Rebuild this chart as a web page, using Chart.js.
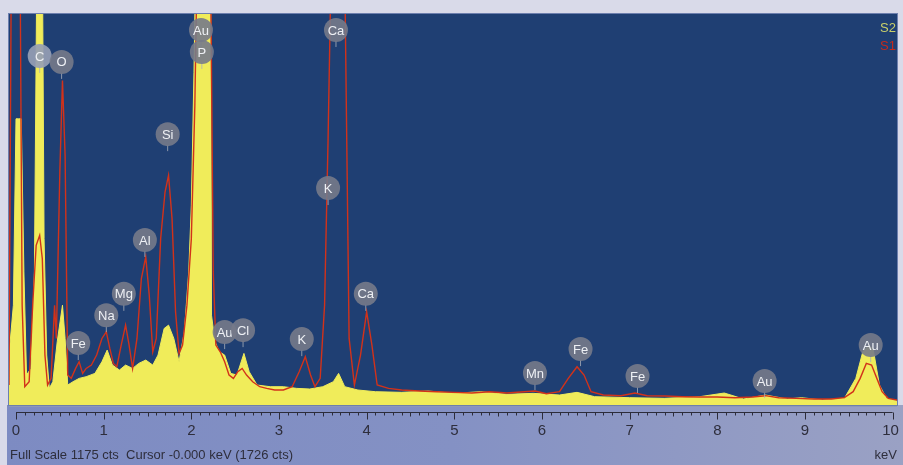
<!DOCTYPE html>
<html>
<head>
<meta charset="utf-8">
<script src="https://cdn.jsdelivr.net/npm/chart.js@4/dist/chart.umd.min.js"></script>
<style>
    html, body { margin: 0; padding: 0; background: #d9dae9; overflow: hidden; }
    #spectrum_chart { display: block; }
</style>
</head>
<body>
<canvas id="spectrum_chart" width="903" height="465"></canvas>
<script>
// S1 (red line) - energy in keV, counts
var energyS1 = [-0.08, -0.05, 0.0, 0.04, 0.07, 0.10, 0.15, 0.19, 0.23, 0.27, 0.30, 0.33, 0.36, 0.40, 0.44, 0.46, 0.50, 0.53, 0.56, 0.59, 0.63,
    0.68, 0.72, 0.76, 0.80, 0.86, 0.92, 0.98, 1.03, 1.07, 1.11, 1.15, 1.20, 1.25, 1.29, 1.33, 1.38, 1.43, 1.48, 1.52, 1.56,
    1.60, 1.65, 1.70, 1.74, 1.78, 1.82, 1.86, 1.90, 1.95, 2.00, 2.04, 2.07, 2.12, 2.18, 2.22, 2.25, 2.28, 2.33, 2.38, 2.43, 2.48,
    2.53, 2.58, 2.63, 2.70, 2.78, 2.86, 2.95, 3.05, 3.15, 3.23, 3.30, 3.36, 3.41, 3.47, 3.52, 3.56, 3.60, 3.70, 3.75, 3.80,
    3.86, 3.93, 4.00, 4.06, 4.12, 4.25, 4.40, 4.60, 4.80, 5.00, 5.20, 5.40, 5.60, 5.80, 5.92, 6.05, 6.20, 6.30, 6.40, 6.48,
    6.56, 6.70, 6.90, 7.06, 7.20, 7.40, 7.60, 7.80, 8.00, 8.20, 8.40, 8.55, 8.70, 8.90, 9.10, 9.30, 9.45, 9.55, 9.63, 9.70,
    9.76, 9.82, 9.88, 9.95, 10.05];
var countsS1 = [60, 1500, 1726, 1600, 300, 55, 70, 300, 480, 510, 440, 150, 60, 80, 300, 200, 700, 975, 750, 90, 80,
    110, 130, 95, 110, 120, 150, 200, 220, 170, 125, 115, 180, 240, 180, 110, 200, 380, 445, 330, 160,
    200, 500, 640, 690, 560, 280, 155, 180, 300, 500, 900, 1400, 1500, 1450, 1300, 400, 180, 160, 130, 90, 80,
    100, 110, 90, 70, 55, 50, 45, 45, 55, 100, 145, 90, 55, 80, 300, 800, 1400, 1500, 1300, 200,
    60, 150, 280, 180, 60, 50, 45, 42, 40, 38, 36, 40, 36, 40, 42, 34, 40, 80, 115, 90,
    40, 30, 28, 36, 28, 27, 25, 24, 24, 22, 24, 28, 22, 20, 18, 18, 22, 40, 80, 125,
    120, 80, 40, 20, 15];

// S2 (yellow filled)
var energyS2 = [-0.08, -0.03, 0.0, 0.03, 0.06, 0.09, 0.12, 0.17, 0.21, 0.24, 0.27, 0.30, 0.32, 0.35, 0.38, 0.42, 0.47, 0.53, 0.56, 0.59,
    0.65, 0.72, 0.80, 0.90, 0.98, 1.04, 1.10, 1.18, 1.25, 1.33, 1.40, 1.48, 1.56, 1.62, 1.69, 1.74, 1.80, 1.86, 1.92, 1.97,
    2.00, 2.03, 2.06, 2.10, 2.18, 2.22, 2.23, 2.27, 2.32, 2.38, 2.45, 2.52, 2.60, 2.66, 2.75, 2.90, 3.05, 3.20, 3.35, 3.50, 3.62, 3.68, 3.75,
    3.90, 4.10, 4.40, 4.70, 5.00, 5.30, 5.60, 5.90, 6.20, 6.40, 6.60, 7.00, 7.40, 7.80, 8.08, 8.30, 8.55, 8.80, 8.96, 9.20,
    9.45, 9.58, 9.66, 9.73, 9.78, 9.85, 9.93, 10.05];
var countsS2 = [150, 300, 860, 860, 860, 400, 90, 110, 400, 1400, 1500, 1400, 500, 150, 50, 70, 190, 300, 200, 60,
    70, 80, 85, 95, 130, 165, 120, 105, 120, 110, 125, 135, 120, 150, 230, 240, 200, 130, 220, 400,
    600, 1000, 1500, 1600, 1500, 1400, 270, 190, 160, 150, 95, 90, 155, 100, 60, 55, 55, 50, 48, 55, 70, 95, 55,
    45, 40, 38, 42, 35, 40, 32, 35, 30, 38, 25, 22, 20, 25, 36, 18, 30, 18, 22, 15,
    20, 80, 160, 180, 165, 60, 20, 12];

// peak labels
var peakNames = ['C', 'O', 'Au', 'P', 'Si', 'Ca', 'K', 'Al', 'Mg', 'Na', 'Fe', 'Au', 'Cl', 'K', 'Ca', 'Mn', 'Fe', 'Fe', 'Au', 'Au'];
var peakEnergies = [0.27, 0.52, 2.11, 2.12, 1.73, 3.65, 3.56, 1.47, 1.23, 1.03, 0.71, 2.38, 2.59, 3.26, 3.99, 5.92, 6.44, 7.09, 8.54, 9.75];
var peakCounts = [1049, 1031, 1127, 1061, 814, 1127, 652, 496, 334, 270, 186, 219, 225, 198, 334, 96, 168, 87, 72, 180];

var tickLabels = ['0', '1', '2', '3', '4', '5', '6', '7', '8', '9', '10'];

var toPoints = function(xs, ys) {
    return xs.map(function(x, i) { return { x: x, y: ys[i] }; });
};

var spectrumPlugin = {
    id: 'spectrumDeco',
    beforeDraw: function(chart) {
        var ctx = chart.ctx, a = chart.chartArea;
        ctx.save();
        ctx.fillStyle = '#d9dae9';
        ctx.fillRect(0, 0, chart.width, chart.height);
        var g = ctx.createLinearGradient(0, 0, chart.width, 0);
        g.addColorStop(0, '#7d8bc2');
        g.addColorStop(0.5, '#8491c4');
        g.addColorStop(1, '#9aa1c4');
        ctx.fillStyle = g;
        ctx.fillRect(a.left - 2, a.bottom, chart.width - a.left + 2, chart.height - a.bottom);
        ctx.fillStyle = '#8e98b8';
        ctx.fillRect(a.left, a.bottom, a.right - a.left, 2);
        ctx.fillStyle = '#1f3f73';
        ctx.fillRect(a.left, a.top, a.right - a.left, a.bottom - a.top);
        ctx.strokeStyle = '#6d7fae';
        ctx.lineWidth = 1;
        ctx.strokeRect(a.left - 0.5, a.top - 0.5, a.right - a.left + 1, a.bottom - a.top + 1);
        ctx.restore();
    },
    afterDatasetsDraw: function(chart) {
        var ctx = chart.ctx, a = chart.chartArea, xs = chart.scales.x, ys = chart.scales.y;
        ctx.save();
        // peak label bubbles
        ctx.font = '13px "Liberation Sans", Arial, sans-serif';
        ctx.textAlign = 'center';
        ctx.textBaseline = 'middle';
        peakNames.forEach(function(name, i) {
            var px = xs.getPixelForValue(peakEnergies[i]);
            var py = ys.getPixelForValue(peakCounts[i]);
            ctx.strokeStyle = 'rgba(170,175,185,0.8)';
            ctx.lineWidth = 1;
            ctx.beginPath();
            ctx.moveTo(px, py + 11);
            ctx.lineTo(px, py + 17);
            ctx.stroke();
            ctx.fillStyle = i === 0 ? 'rgba(150,158,180,0.92)' : 'rgba(118,122,138,0.9)';
            ctx.beginPath();
            ctx.arc(px, py, 12, 0, Math.PI * 2);
            ctx.fill();
            ctx.fillStyle = '#eef0f4';
            ctx.fillText(name, px, py + 1);
        });

        // legend
        ctx.font = '13px "Liberation Sans", Arial, sans-serif';
        ctx.textAlign = 'right';
        ctx.fillStyle = '#c8cf6a';
        ctx.fillText('S2', a.right - 1, a.top + 14);
        ctx.fillStyle = '#c42a1c';
        ctx.fillText('S1', a.right - 1, a.top + 32);

        // energy ruler
        var ay = Math.round(a.bottom) + 7.5;
        var x0 = xs.getPixelForValue(0), x1 = xs.getPixelForValue(10);
        ctx.strokeStyle = '#2c2c3a';
        ctx.lineWidth = 1;
        ctx.beginPath();
        ctx.moveTo(x0, ay);
        ctx.lineTo(x1, ay);
        for (var t = 0; t <= 100; t++) {
            var tx = Math.round(xs.getPixelForValue(t / 10)) + 0.5;
            var len = t % 10 === 0 ? 7 : (t % 5 === 0 ? 4 : 3);
            ctx.moveTo(tx, ay);
            ctx.lineTo(tx, ay + len);
        }
        ctx.stroke();
        ctx.fillStyle = '#2e2e3c';
        ctx.font = '15px "Liberation Sans", Arial, sans-serif';
        ctx.textAlign = 'center';
        ctx.textBaseline = 'middle';
        tickLabels.forEach(function(lb, i) {
            var tx = xs.getPixelForValue(i);
            if (i === 10) tx -= 2;
            ctx.fillText(lb, tx, a.bottom + 26);
        });
        ctx.font = '13px "Liberation Sans", Arial, sans-serif';
        ctx.textAlign = 'left';
        ctx.fillText('Full Scale 1175 cts  Cursor -0.000 keV (1726 cts)', 10, a.bottom + 50);
        ctx.textAlign = 'right';
        ctx.fillText('keV', chart.width - 6, a.bottom + 50);
        ctx.restore();
    }
};

const spectrumCanvas = document.getElementById('spectrum_chart');

new Chart(spectrumCanvas, {
    type: 'line',
    data: {
        datasets: [
            {
                label: 'S1',
                data: toPoints(energyS1, countsS1),
                borderColor: '#d2321a',
                borderWidth: 1.4,
                pointRadius: 0,
                fill: false,
                tension: 0,
            },
            {
                label: 'S2',
                data: toPoints(energyS2, countsS2),
                borderColor: '#f0ec5a',
                backgroundColor: '#f0ec5a',
                borderWidth: 1,
                pointRadius: 0,
                fill: 'origin',
                tension: 0,
            }
        ]
    },
    options: {
        responsive: false,
        animation: false,
        devicePixelRatio: 1,
        events: [],
        layout: {
            padding: { left: 9, right: 6, top: 14, bottom: 60 }
        },
        plugins: {
            legend: { display: false },
            tooltip: { enabled: false },
        },
        scales: {
            x: {
                type: 'linear',
                min: -0.08,
                max: 10.05,
                display: false,
            },
            y: {
                min: 0,
                max: 1175,
                display: false,
            }
        }
    },
    plugins: [spectrumPlugin]
});
</script>
</body>
</html>
